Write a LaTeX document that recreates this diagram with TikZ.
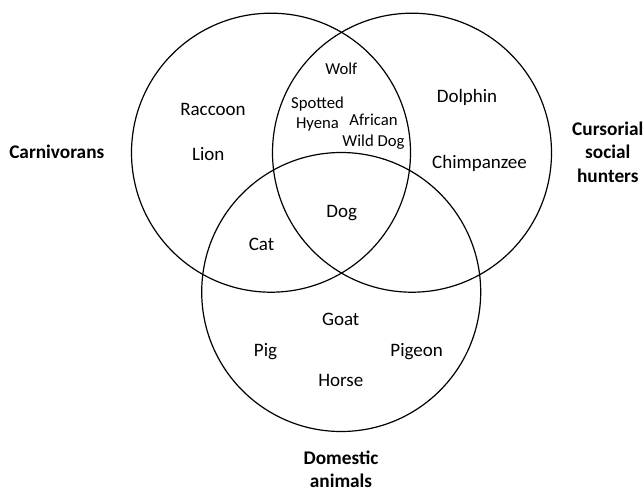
\documentclass[tikz,border=0pt]{standalone}
\usepackage{fontspec}
\setmainfont{Carlito}
\begin{document}
\begin{tikzpicture}[x=1pt,y=-1pt,
  ring/.style={circle,draw,line width=1.2pt,minimum size=279pt,inner sep=0pt,outer sep=0pt},
  item/.style={font=\fontsize{19}{23}\selectfont,anchor=base,inner sep=0pt},
  small/.style={font=\fontsize{16.7}{20.5}\selectfont,anchor=base,align=center,inner sep=0pt},
  settitle/.style={font=\fontsize{19.3}{23.7}\selectfont\bfseries,anchor=base,align=center,inner sep=0pt}]
\useasboundingbox (0,0) rectangle (644,490);
\fill[white] (0,0) rectangle (644,490);
% sets
\node[ring] (carn) at (271,152.7) {};
\node[ring] (hunt) at (412,152.7) {};
\node[ring] (dom) at (341.2,292) {};
% set titles (base anchor = last line's baseline)
\node[settitle] (tcarn) at (56.8,158) {Carnivorans};
\node[settitle,font=\fontsize{19.3}{23.7}\selectfont\bfseries] (thunt) at (607.8,182.5) {Cursorial\\social\\hunters};
\node[settitle,font=\fontsize{19.3}{22.4}\selectfont\bfseries] (tdom) at (341,487) {Domestic\\animals};
% members
\node[small] (wolf) at (341.3,74.3) {Wolf};
\node[small,font=\fontsize{16.7}{20}\selectfont] (hyena) at (317.5,128.3) {Spotted\\Hyena};
\node[small,font=\fontsize{16.7}{21}\selectfont] (awd) at (373.5,146) {African\\Wild Dog};
\node[item] (raccoon) at (213,115.7) {Raccoon};
\node[item] (lion) at (208.3,160) {Lion};
\node[item] (dolphin) at (467,102) {Dolphin};
\node[item] (chimp) at (479.5,168) {Chimpanzee};
\node[item] (dog) at (341.8,217) {Dog};
\node[item] (cat) at (261.5,250) {Cat};
\node[item] (goat) at (340.7,325) {Goat};
\node[item] (pig) at (265.5,356.5) {Pig};
\node[item] (pigeon) at (416.7,356) {Pigeon};
\node[item] (horse) at (340.8,386) {Horse};
\end{tikzpicture}
\end{document}
